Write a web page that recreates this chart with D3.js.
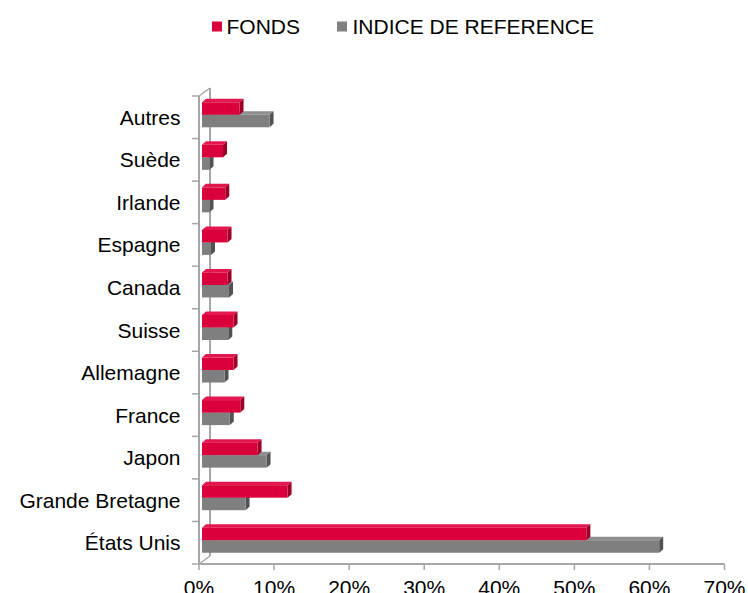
<!DOCTYPE html>
<html>
<head>
<meta charset="utf-8">
<script src="https://cdn.jsdelivr.net/npm/d3@7"></script>
<style>
  body { margin: 0; background: #fff; }
  text { font-family: "Liberation Sans", Arial, sans-serif; fill: #000; }
</style>
</head>
<body>
<div id="chart"></div>
<script>
// Data
const categories = ["Autres", "Suède", "Irlande", "Espagne", "Canada", "Suisse", "Allemagne", "France", "Japon", "Grande Bretagne", "États Unis"];
const fonds = [5.0, 2.8, 3.1, 3.4, 3.4, 4.2, 4.2, 5.1, 7.4, 11.4, 51.2];
const indice = [9.0, 1.0, 1.0, 1.2, 3.6, 3.5, 3.0, 3.7, 8.6, 5.8, 60.9];
const xTicks = [0, 10, 20, 30, 40, 50, 60, 70];
const seriesNames = ["FONDS", "INDICE DE REFERENCE"];

const W = 748, H = 593;
const svg = d3.select("#chart").append("svg")
    .attr("width", W)
    .attr("height", H);

svg.append("rect").attr("width", W).attr("height", H).attr("fill", "#fff");

// 3D styling
const colors = {
    red: { front: "#d9003c", top: "#e3164f", side: "#9c0029" },
    grey: { front: "#7f7f7f", top: "#8e8e8e", side: "#525252" }
};
const depthX = 11, depthY = 8;   // wall depth
const bx = 4, by = 3.5;          // bar depth
const barH = 12.5;

const x = d3.scaleLinear().domain([0, 70]).range([199, 724.5]);
const y = d3.scaleBand().domain(categories).range([96, 564]);

const axisColor = "#a6a6a6";

// back wall line + diagonals
svg.append("line")
    .attr("x1", x(0) + depthX).attr("x2", x(0) + depthX)
    .attr("y1", y.range()[0] - depthY).attr("y2", y.range()[1] - depthY)
    .attr("stroke", axisColor).attr("stroke-width", 2);
svg.append("line")
    .attr("x1", x(0)).attr("y1", y.range()[0])
    .attr("x2", x(0) + depthX).attr("y2", y.range()[0] - depthY)
    .attr("stroke", axisColor).attr("stroke-width", 1.5);
svg.append("line")
    .attr("x1", x(0)).attr("y1", y.range()[1])
    .attr("x2", x(0) + depthX).attr("y2", y.range()[1] - depthY)
    .attr("stroke", axisColor).attr("stroke-width", 1.5);

// front vertical axis
svg.append("line")
    .attr("x1", x(0)).attr("x2", x(0))
    .attr("y1", y.range()[0]).attr("y2", y.range()[1])
    .attr("stroke", axisColor).attr("stroke-width", 2);

// category tick marks (band edges)
const edges = categories.map(c => y(c)).concat([y.range()[1]]);
svg.selectAll(".ytick")
    .data(edges)
    .enter().append("line")
    .attr("x1", x(0) - 7).attr("x2", x(0))
    .attr("y1", d => d).attr("y2", d => d)
    .attr("stroke", axisColor).attr("stroke-width", 1.5);

// category labels
svg.selectAll(".ylab")
    .data(categories)
    .enter().append("text")
    .attr("x", 180.5)
    .attr("y", d => y(d) + y.bandwidth() / 2 + 7.5)
    .attr("text-anchor", "end")
    .style("font-size", "21px")
    .text(d => d);

// x axis
svg.append("line")
    .attr("x1", x(0)).attr("x2", x(70))
    .attr("y1", y.range()[1]).attr("y2", y.range()[1])
    .attr("stroke", axisColor).attr("stroke-width", 2);
svg.selectAll(".xtick")
    .data(xTicks)
    .enter().append("line")
    .attr("x1", d => x(d)).attr("x2", d => x(d))
    .attr("y1", y.range()[1]).attr("y2", y.range()[1] + 6)
    .attr("stroke", axisColor).attr("stroke-width", 1.5);
svg.selectAll(".xlab")
    .data(xTicks)
    .enter().append("text")
    .attr("x", d => x(d))
    .attr("y", 595)
    .attr("text-anchor", "middle")
    .style("font-size", "21px")
    .text(d => d + "%");

// draw one 3D bar
function bar3d(value, top, pal) {
    const x0 = x(0) + 3, x1 = x(value) + 3;
    const g = svg.append("g");
    g.append("polygon")
        .attr("points", [[x0, top], [x0 + bx, top - by], [x1 + bx, top - by], [x1, top]].join(" "))
        .attr("fill", pal.top);
    g.append("polygon")
        .attr("points", [[x1, top], [x1 + bx, top - by], [x1 + bx, top + barH - by], [x1, top + barH]].join(" "))
        .attr("fill", pal.side);
    g.append("rect")
        .attr("x", x0).attr("y", top)
        .attr("width", x1 - x0).attr("height", barH)
        .attr("fill", pal.front);
}

categories.forEach((c, i) => {
    const cy = y(c) + y.bandwidth() / 2;
    bar3d(indice[i], cy - 2.5, colors.grey);
    bar3d(fonds[i], cy - 2.5 - barH, colors.red);
});

// legend
const legend = svg.append("g").style("font-size", "21px");
const legendItems = [
    { name: seriesNames[0], color: colors.red.front, sx: 212, tx: 226.5 },
    { name: seriesNames[1], color: "#808080", sx: 337, tx: 352.5 }
];
legendItems.forEach(d => {
    legend.append("rect")
        .attr("x", d.sx).attr("y", 21.5)
        .attr("width", 10).attr("height", 10)
        .attr("fill", d.color);
    legend.append("text")
        .attr("x", d.tx).attr("y", 33.5)
        .text(d.name);
});
</script>
</body>
</html>
